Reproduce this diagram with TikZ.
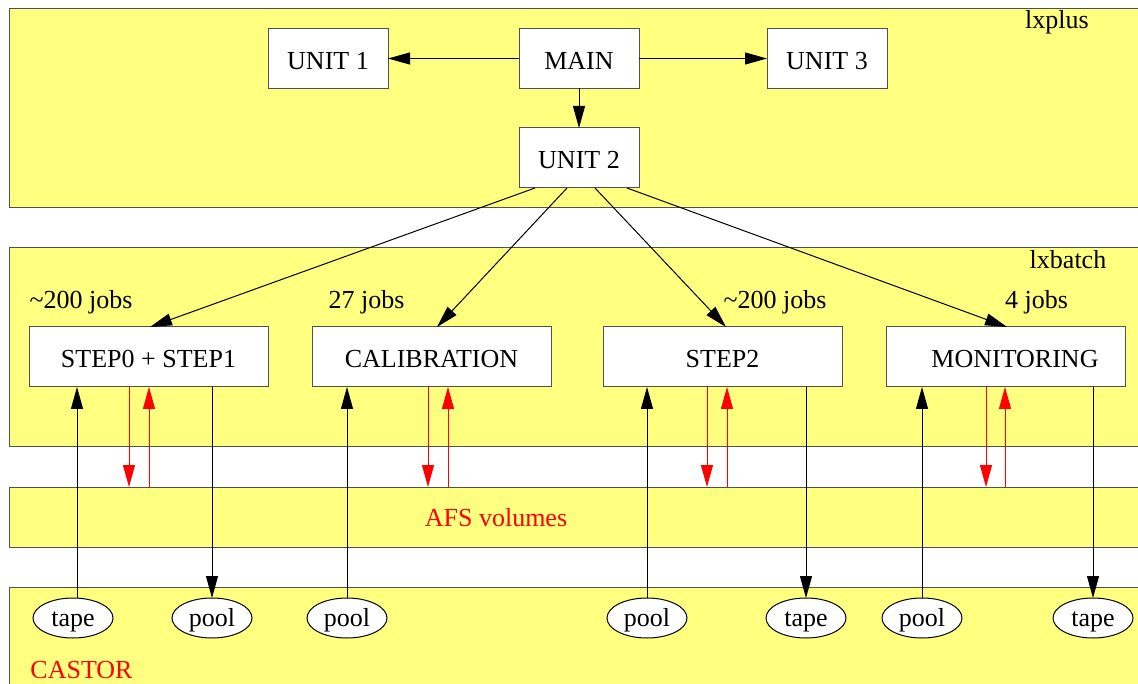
\documentclass[tikz,border=0pt]{standalone}
\usepackage{fontspec}
\setmainfont{Liberation Serif}
\usetikzlibrary{arrows.meta,shapes.geometric}
\definecolor{panelyellow}{HTML}{FFFF80}
\definecolor{edgegray}{HTML}{505050}
\begin{document}
\begin{tikzpicture}[x=1pt,y=-1pt,
  font=\fontsize{26}{31}\selectfont,
  panel/.style={draw=edgegray, fill=panelyellow, line width=1pt, rectangle, anchor=north west, inner sep=0pt, outer sep=0pt},
  box/.style={draw=edgegray, fill=white, line width=1pt, rectangle, minimum height=60pt, inner sep=0pt, outer sep=0pt, text height=24pt, text depth=2pt},
  store/.style={ellipse, draw=black, fill=white, line width=1pt, minimum width=80pt, minimum height=40pt, inner sep=0pt, outer sep=0pt, text height=19.4pt, text depth=2pt},
  lbl/.style={inner sep=0pt},
  redlbl/.style={inner sep=0pt, text=red},
  arr/.style={-{Triangle[length=22pt,width=12pt]}, line width=1pt, draw=black},
  rarr/.style={-{Triangle[length=22pt,width=12pt]}, line width=1pt, draw=red}]
\useasboundingbox (0,0) rectangle (1138,684);

% panels
\node[panel, minimum width=1140pt, minimum height=199pt] (lxplus) at (9,9) {};
\node[panel, minimum width=1140pt, minimum height=198.5pt] (lxbatch) at (9,248) {};
\node[panel, minimum width=1140pt, minimum height=60pt] (afs) at (9,487) {};
\node[panel, minimum width=1140pt, minimum height=120pt] (castor) at (9,587) {};

% panel labels
\node[lbl] (lxplusl) at (1057,22.5) {lxplus};
\node[lbl] (lxbatchl) at (1068,259.5) {lxbatch};
\node[redlbl] (afsl) at (496,518) {AFS volumes};
\node[redlbl] (castorl) at (81.5,670.5) {CASTOR};

% job labels
\node[lbl] (j1) at (81,302.5) {\textasciitilde 200 jobs};
\node[lbl] (j2) at (366.5,302.5) {27 jobs};
\node[lbl] (j3) at (775,302.5) {\textasciitilde 200 jobs};
\node[lbl] (j4) at (1036.5,302.5) {4 jobs};

% lxplus boxes
\node[box, minimum width=120pt] (u1) at (328,58.5) {UNIT 1};
\node[box, minimum width=120pt] (main) at (579,58.5) {MAIN};
\node[box, minimum width=120pt] (u3) at (827,58.5) {UNIT 3};
\node[box, minimum width=120pt] (u2) at (579,158) {UNIT 2};

% lxbatch boxes
\node[box, minimum width=239pt] (s01) at (148.5,357) {STEP0 + STEP1};
\node[box, minimum width=239pt] (cal) at (431.5,357) {CALIBRATION};
\node[box, minimum width=239pt] (s2) at (722.5,357) {STEP2};
\node[box, minimum width=239pt] (mon) at (1005.5,357) {\hspace*{19pt}MONITORING};

% castor stores
\node[store] (t1) at (73,618) {tape};
\node[store] (p1) at (212,618) {pool};
\node[store] (p2) at (347,618) {pool};
\node[store] (p3) at (647,618) {pool};
\node[store] (t2) at (806,618) {tape};
\node[store] (p4) at (922,618) {pool};
\node[store] (t3) at (1093,618) {tape};

% top arrows
\draw[arr] (main.west) -- (u1.east);
\draw[arr] (main.east) -- (u3.west);
\draw[arr] (main.south) -- (u2.north);

% unit 2 to jobs
\draw[arr] ([xshift=-44pt]u2.south) -- ([xshift=1.5pt]s01.north);
\draw[arr] ([xshift=-12pt]u2.south) -- ([xshift=5.5pt]cal.north);
\draw[arr] ([xshift=16pt]u2.south) -- ([xshift=3.5pt]s2.north);
\draw[arr] ([xshift=48pt]u2.south) -- ([xshift=1.5pt]mon.north);

% STEP0 + STEP1
\coordinate (a1) at ([xshift=4pt]t1.north);
\draw[arr] (a1) -- (a1 |- s01.south);
\coordinate (r1) at ([xshift=-19.5pt]s01.south);
\draw[rarr] (r1) -- (r1 |- afs.north);
\coordinate (r2) at ([xshift=0.5pt]s01.south);
\draw[rarr] (r2 |- afs.north) -- (r2);
\draw[arr] (s01.south -| p1.north) -- (p1.north);

% CALIBRATION
\draw[arr] (p2.north) -- (p2.north |- cal.south);
\coordinate (r3) at ([xshift=-3.5pt]cal.south);
\draw[rarr] (r3) -- (r3 |- afs.north);
\coordinate (r4) at ([xshift=16.5pt]cal.south);
\draw[rarr] (r4 |- afs.north) -- (r4);

% STEP2
\draw[arr] (p3.north) -- (p3.north |- s2.south);
\coordinate (r5) at ([xshift=-15.5pt]s2.south);
\draw[rarr] (r5) -- (r5 |- afs.north);
\coordinate (r6) at ([xshift=4.5pt]s2.south);
\draw[rarr] (r6 |- afs.north) -- (r6);
\draw[arr] (s2.south -| t2.north) -- (t2.north);

% MONITORING
\draw[arr] (p4.north) -- (p4.north |- mon.south);
\coordinate (r7) at ([xshift=-19.5pt]mon.south);
\draw[rarr] (r7) -- (r7 |- afs.north);
\coordinate (r8) at ([xshift=-0.5pt]mon.south);
\draw[rarr] (r8 |- afs.north) -- (r8);
\draw[arr] (mon.south -| t3.north) -- (t3.north);
\end{tikzpicture}
\end{document}
